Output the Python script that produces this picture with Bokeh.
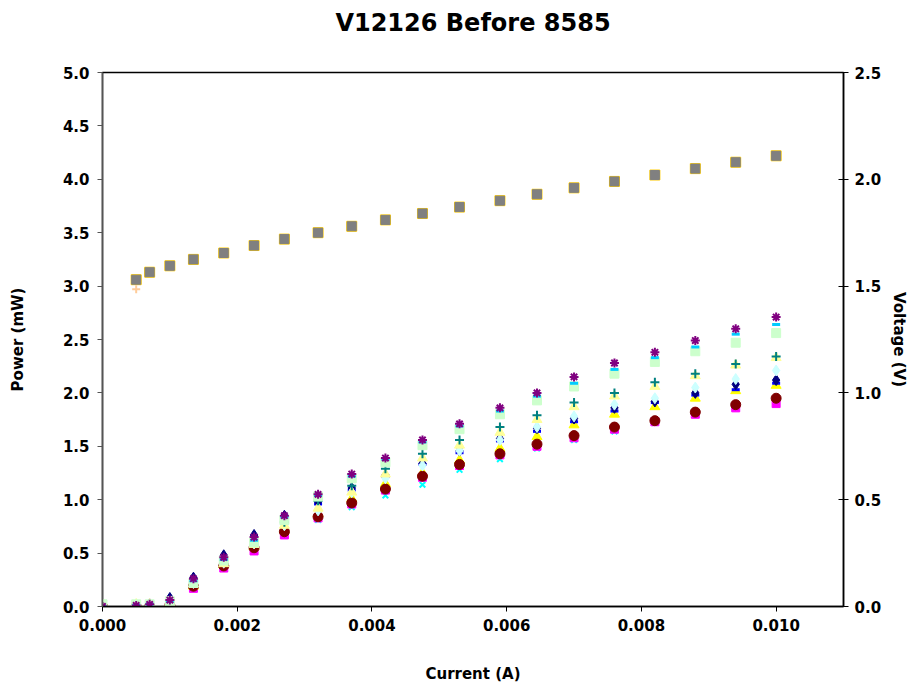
from bokeh.plotting import figure
from bokeh.models import Range1d, LinearAxis, SingleIntervalTicker, PrintfTickFormatter, FixedTicker
from bokeh.embed import file_html
from bokeh.resources import INLINE

# ---- data ----
current = [0.0, 0.0005, 0.0007, 0.001, 0.00135, 0.0018, 0.00225, 0.0027, 0.0032, 0.0037,
           0.0042, 0.00475, 0.0053, 0.0059, 0.00645, 0.007, 0.0076, 0.0082, 0.0088, 0.0094, 0.01]

p_navy_diamond = [0, 0.01, 0.02, 0.08, 0.27, 0.48, 0.67, 0.85, 0.98, 1.11, 1.23, 1.34, 1.46, 1.57, 1.67, 1.76, 1.86, 1.92, 2.00, 2.08, 2.12]
p_blue_dash    = [0, 0.01, 0.02, 0.07, 0.25, 0.46, 0.65, 0.83, 0.96, 1.09, 1.22, 1.33, 1.44, 1.55, 1.64, 1.73, 1.83, 1.91, 1.98, 2.03, 2.09]
p_magenta_sq   = [0, 0.0, 0.0, 0.0, 0.17, 0.36, 0.52, 0.67, 0.83, 0.96, 1.09, 1.21, 1.32, 1.42, 1.50, 1.58, 1.66, 1.73, 1.80, 1.86, 1.90]
p_darkred_circ = [0, 0.0, 0.0, 0.01, 0.19, 0.38, 0.55, 0.70, 0.84, 0.97, 1.10, 1.22, 1.33, 1.43, 1.52, 1.60, 1.68, 1.74, 1.82, 1.89, 1.95]
p_cyan_x       = [0, 0.0, 0.0, 0.0, 0.18, 0.37, 0.53, 0.68, 0.81, 0.93, 1.04, 1.14, 1.28, 1.38, 1.48, 1.56, 1.64, 1.72, 1.80, 1.86, 1.92]
p_yellow_tri   = [0, 0.0, 0.0, 0.0, 0.19, 0.39, 0.56, 0.72, 0.87, 1.01, 1.15, 1.25, 1.37, 1.48, 1.59, 1.70, 1.80, 1.87, 1.95, 2.02, 2.07]
p_ltyellow_tri = [0, 0.02, 0.02, 0.03, 0.21, 0.40, 0.58, 0.76, 0.92, 1.07, 1.24, 1.39, 1.51, 1.63, 1.75, 1.87, 1.97, 2.06, 2.16, 2.26, 2.33]
p_ltcyan_diam  = [0, 0.02, 0.02, 0.04, 0.22, 0.41, 0.59, 0.76, 0.90, 1.07, 1.20, 1.32, 1.46, 1.56, 1.68, 1.78, 1.89, 1.95, 2.05, 2.13, 2.21]
p_teal_plus    = [0, 0.01, 0.02, 0.05, 0.23, 0.43, 0.61, 0.79, 0.99, 1.13, 1.29, 1.43, 1.56, 1.68, 1.79, 1.91, 2.00, 2.10, 2.18, 2.27, 2.34]
p_ltgreen_sq   = [0.02, 0.02, 0.02, 0.05, 0.22, 0.43, 0.60, 0.81, 1.03, 1.20, 1.35, 1.51, 1.66, 1.80, 1.93, 2.06, 2.18, 2.29, 2.39, 2.47, 2.56]
p_ltblue_dash  = [0, 0.01, 0.02, 0.05, 0.24, 0.44, 0.62, 0.84, 1.04, 1.22, 1.38, 1.54, 1.69, 1.83, 1.97, 2.09, 2.22, 2.33, 2.43, 2.55, 2.64]
p_purple_star  = [0, 0.01, 0.02, 0.06, 0.26, 0.46, 0.65, 0.85, 1.05, 1.24, 1.39, 1.56, 1.71, 1.86, 2.00, 2.15, 2.28, 2.38, 2.49, 2.60, 2.71]

v_current = current[1:]
v_gray_sq   = [1.53, 1.565, 1.595, 1.625, 1.655, 1.69, 1.72, 1.75, 1.78, 1.81, 1.84, 1.87, 1.90, 1.93, 1.96, 1.99, 2.02, 2.05, 2.08, 2.11]
v_orange_sq = [1.53, 1.565, 1.595, 1.625, 1.655, 1.69, 1.72, 1.75, 1.78, 1.81, 1.84, 1.87, 1.90, 1.93, 1.96, 1.99, 2.02, 2.05, 2.08, 2.11]
v_teal_dash = [1.53, 1.565, 1.595, 1.625, 1.655, 1.69, 1.72, 1.75, 1.78, 1.81, 1.84, 1.87, 1.90, 1.93, 1.96, 1.99, 2.02, 2.05, 2.08, 2.11]
v_peach_plus = [1.485, 1.565, 1.595, 1.625, 1.655, 1.69, 1.72, 1.75, 1.78, 1.81, 1.84, 1.87, 1.90, 1.93, 1.96, 1.99, 2.02, 2.05, 2.08, 2.11]

title_text = "V12126 Before 8585"
x_label = "Current (A)"
y_label = "Power (mW)"
y2_label = "Voltage (V)"

FONT = "DejaVu Sans"

p = figure(width=911, height=687, output_backend="svg", toolbar_location=None,
           x_range=Range1d(0, 0.011), y_range=Range1d(0, 5.0),
           min_border_left=102, min_border_right=66, min_border_top=72, min_border_bottom=81)
p.extra_y_ranges = {"v": Range1d(0, 2.5)}

p.xgrid.visible = False
p.ygrid.visible = False
p.outline_line_color = "black"
p.outline_line_width = 1.5
p.background_fill_color = "white"
p.border_fill_color = "white"

x_axis = p.below[0]
y_axis = p.left[0]

def style_axis(ax, label, fmt, interval, tick_in=0, color="black"):
    ax.axis_label = label
    ax.axis_label_text_font = FONT
    ax.axis_label_text_font_size = "15px"
    ax.axis_label_text_font_style = "bold"
    ax.axis_label_text_color = "black"
    ax.major_label_text_font = FONT
    ax.major_label_text_font_size = "15px"
    ax.major_label_text_font_style = "bold"
    ax.major_label_text_color = "black"
    ax.ticker = SingleIntervalTicker(interval=interval)
    ax.formatter = PrintfTickFormatter(format=fmt)
    ax.minor_tick_line_color = None
    ax.major_tick_out = 5
    ax.major_tick_in = tick_in
    ax.major_tick_line_color = color
    ax.axis_line_color = color
    ax.axis_line_width = 1.5
    ax.major_label_standoff = 7

style_axis(x_axis, x_label, "%.3f", 0.002)
x_axis.axis_label_standoff = 31
style_axis(y_axis, y_label, "%.1f", 0.5, color="#555555")
y_axis.axis_label_standoff = 33
y_axis.major_label_standoff = 8

ax2 = LinearAxis(y_range_name="v")
style_axis(ax2, y2_label, "%.1f", 0.5, tick_in=5)
ax2.axis_label_standoff = 6
ax2.major_label_standoff = 6
p.add_layout(ax2, "right")

# chart title as the label of a tick-less axis above the frame
tax = LinearAxis(ticker=FixedTicker(ticks=[]), axis_line_color=None,
                 major_tick_out=0, major_tick_in=0, minor_tick_out=0, minor_tick_in=0,
                 major_tick_line_color=None, minor_tick_line_color=None,
                 major_label_text_font_size="0px",
                 axis_label=title_text, axis_label_text_font=FONT,
                 axis_label_text_font_size="24px", axis_label_text_font_style="bold",
                 axis_label_text_color="black", axis_label_standoff=36)
p.add_layout(tax, "above")

# ---- voltage series (right axis) ----
p.scatter(v_current, v_teal_dash, y_range_name="v", marker="dash", size=8, line_color="#33CCCC", line_width=3)
p.scatter(v_current, v_orange_sq, y_range_name="v", marker="square", size=10, fill_color="#FFCC00", line_color="#FFCC00")
p.scatter(v_current, v_peach_plus, y_range_name="v", marker="cross", size=8, line_color="#FFCC99", line_width=2)
p.scatter(v_current, v_gray_sq, y_range_name="v", marker="square", size=9, fill_color="#808080", line_color="#808080")

# ---- power series (left axis) ----
p.scatter(current, p_cyan_x, marker="x", size=8, line_color="#00FFFF", line_width=2)
p.scatter(current, p_magenta_sq, marker="square", size=8, fill_color="#FF00FF", line_color="#FF00FF")
p.scatter(current, p_yellow_tri, marker="triangle", size=10, fill_color="#FFFF00", line_color="#FFFF00")
p.scatter(current, p_darkred_circ, marker="circle", size=10, fill_color="#800000", line_color="#800000")
p.scatter(current, p_blue_dash, marker="dash", size=8, line_color="#0000FF", line_width=3)
p.scatter(current, p_navy_diamond, marker="diamond", size=11, fill_color="#000080", line_color="#000080")
p.scatter(current, p_ltcyan_diam, marker="diamond", size=11, fill_color="#CCFFFF", line_color="#CCFFFF")
p.scatter(current, p_ltyellow_tri, marker="triangle", size=10, fill_color="#FFFF99", line_color="#FFFF99")
p.scatter(current, p_teal_plus, marker="cross", size=9, line_color="#008080", line_width=2)
p.scatter(current, p_ltgreen_sq, marker="square", size=9, fill_color="#CCFFCC", line_color="#CCFFCC")
p.scatter(current, p_ltblue_dash, marker="dash", size=8, line_color="#00CCFF", line_width=3)
p.scatter(current, p_purple_star, marker="asterisk", size=9, line_color="#800080", line_width=2)

open("out.html", "w").write(file_html(p, INLINE))
